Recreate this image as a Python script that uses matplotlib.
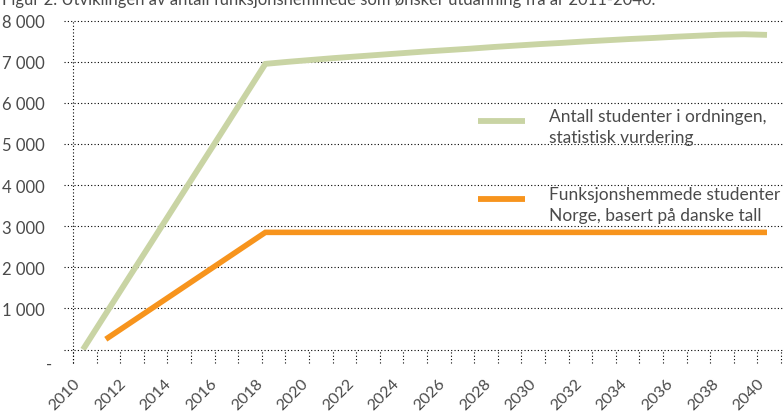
import matplotlib
matplotlib.use("Agg")
import matplotlib.pyplot as plt
import matplotlib.transforms as mtransforms
from matplotlib.ticker import FuncFormatter

# ---------- data ----------
years = [2010, 2011, 2012, 2013, 2014, 2015, 2016, 2017, 2018, 2019, 2020,
         2021, 2022, 2023, 2024, 2025, 2026, 2027, 2028, 2029, 2030,
         2031, 2032, 2033, 2034, 2035, 2036, 2037, 2038, 2039, 2040]
statistisk = [0, 870, 1740, 2605, 3475, 4345, 5210, 6080, 6950, 7000, 7045,
              7090, 7130, 7170, 7210, 7250, 7285, 7320, 7360, 7395, 7430,
              7460, 7495, 7525, 7555, 7580, 7610, 7635, 7660, 7670, 7655]

years_funk = years[1:]
funksjon = [250, 621, 993, 1364, 1736, 2107, 2479, 2850, 2850, 2850,
            2850, 2850, 2850, 2850, 2850, 2850, 2850, 2850, 2850, 2850,
            2850, 2850, 2850, 2850, 2850, 2850, 2850, 2850, 2850, 2850]

y_ticks = [0, 1000, 2000, 3000, 4000, 5000, 6000, 7000, 8000]
x_labels = [2010, 2012, 2014, 2016, 2018, 2020, 2022, 2024, 2026, 2028,
            2030, 2032, 2034, 2036, 2038, 2040]

label_green = "Antall studenter i ordningen,\nstatistisk vurdering"
label_orange = "Funksjonshemmede studenter\nNorge, basert på danske tall"
title = ("Figur 2. Utviklingen av antall funksjonshemmede som ønsker "
         "utdanning fra år 2011-2040.")

GREEN = "#c9d4a4"
ORANGE = "#f7941d"
TXT = "#4a4a4a"

plt.rcParams["font.family"] = ["Lato", "DejaVu Sans"]

W, H = 784, 414
fig = plt.figure(figsize=(W / 100, H / 100), dpi=100)
ax = fig.add_axes([73 / W, (H - 350.5) / H, (781 - 73) / W, (350.5 - 21.7) / H])

ax.plot(years, statistisk, color=GREEN, lw=4.2, solid_capstyle="butt",
        solid_joinstyle="miter", label=label_green, zorder=3)
ax.plot(years_funk, funksjon, color=ORANGE, lw=4.0, solid_capstyle="butt",
        solid_joinstyle="miter", label=label_orange, zorder=3)

px_year = (767 - 83) / 30.0
x0 = 2010 - (83 - 73) / px_year
x1 = 2040 + (781 - 767) / px_year
ax.set_xlim(x0, x1)
ax.set_ylim(0, 8000)

for s in ax.spines.values():
    s.set_visible(False)

dots = (0, (1, 2))
# horizontal dotted gridlines (with small stub left of the axis)
trans_y = mtransforms.blended_transform_factory(ax.transAxes, ax.transData)
stub = -9 / (781 - 73)
for v in y_ticks:
    ax.plot([stub, 1.004], [v, v], transform=trans_y, color="black", lw=0.8,
            ls=dots, clip_on=False, zorder=1)

# dotted vertical axis line
trans_x = mtransforms.blended_transform_factory(ax.transData, ax.transAxes)
tick_len = 13 / (350.5 - 21.7)
ax.plot([x0, x0], [-tick_len, 1], transform=trans_x, color="black", lw=0.8,
        ls=dots, clip_on=False, zorder=1)
# dotted x tick marks, one per category boundary
n_ticks = len(years)
for i in range(n_ticks):
    xt = x0 + i * (x1 - x0) / (n_ticks - 1)
    ax.plot([xt, xt], [-tick_len, 0], transform=trans_x, color="black", lw=0.8,
            ls=dots, clip_on=False, zorder=1)

ax.set_yticks(y_ticks)
ax.yaxis.set_major_formatter(FuncFormatter(
    lambda v, p: "" if v == 0 else f"{int(v):,}".replace(",", " ")))
ax.tick_params(axis="y", length=0, pad=20, labelsize=12, labelcolor=TXT)
# zero is shown as a dash, sitting a bit below the axis line
ax.text(-0.029, -150, "-", transform=trans_y, ha="right", va="top",
        fontsize=12, color=TXT)

ax.set_xticks(x_labels)
ax.set_xticklabels([str(x) for x in x_labels], rotation=45, ha="right", va="top")
ax.tick_params(axis="x", length=0, pad=19, labelsize=11.5, labelcolor=TXT)

leg = ax.legend(loc="upper left", bbox_to_anchor=(405 / 708, 1 - (108.5 - 21.7) / 328.8),
                frameon=False, fontsize=12.5, handlelength=2.7, handletextpad=1.4,
                labelspacing=2.37, borderaxespad=0, borderpad=0)
for t in leg.get_texts():
    t.set_color(TXT)
    t.set_linespacing(1.4)
for h in leg.get_lines():
    h.set_linewidth(4.2)
    # handles sit a little above the middle of the two-line label
    h.set_ydata([y + 4.3 for y in h.get_ydata()])

fig.text(0.002, 1 - 5 / H, title, va="baseline", ha="left", fontsize=12, color=TXT)

fig.savefig("out.png", dpi=100)
